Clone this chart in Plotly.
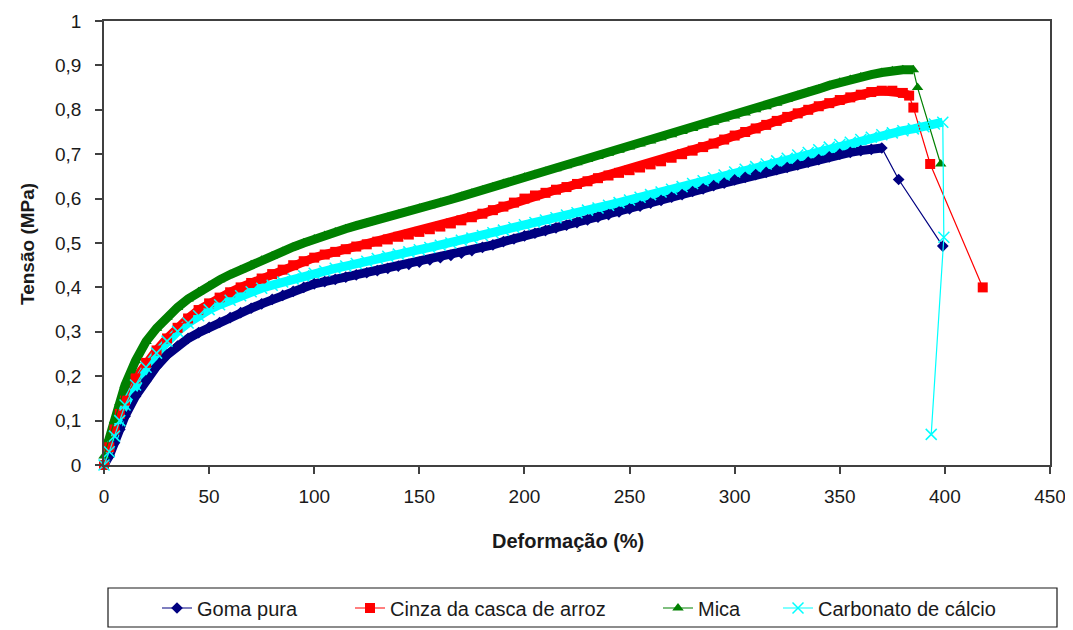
import plotly.graph_objects as go

# ---------------- data ----------------
strain_goma = [0, 2.5, 5, 7.5, 10, 15, 20, 25, 30, 35, 40, 45, 50, 55, 60, 65, 70, 75, 80, 85, 90, 95,
               100, 105, 110, 115, 120, 125, 130, 135, 140, 145, 150, 155, 160, 165, 170, 175, 180, 185,
               190, 195, 200, 205, 210, 215, 220, 225, 230, 235, 240, 245, 250, 255, 260, 265, 270, 275,
               280, 285, 290, 295, 300, 305, 310, 315, 320, 325, 330, 335, 340, 345, 350, 355, 360, 365,
               370, 378, 399]
stress_goma = [0, 0.02, 0.05, 0.08, 0.11, 0.155, 0.19, 0.222, 0.248, 0.268, 0.285, 0.298, 0.31, 0.321,
               0.332, 0.343, 0.353, 0.363, 0.373, 0.382, 0.391, 0.40,
               0.408, 0.413, 0.418, 0.423, 0.428, 0.433, 0.438, 0.443, 0.448, 0.452, 0.457, 0.462, 0.467,
               0.472, 0.477, 0.483, 0.49, 0.496, 0.503, 0.509, 0.516, 0.522, 0.528, 0.534, 0.54, 0.546,
               0.552, 0.558, 0.564, 0.57, 0.577, 0.583, 0.59, 0.596, 0.603, 0.609, 0.616, 0.622, 0.629,
               0.635, 0.642, 0.648, 0.654, 0.659, 0.665, 0.67, 0.676, 0.682, 0.688, 0.694, 0.70, 0.704,
               0.708, 0.711, 0.714, 0.643, 0.493]

strain_cinza = [0, 2.5, 5, 7.5, 10, 15, 20, 25, 30, 35, 40, 45, 50, 55, 60, 65, 70, 75, 80, 85, 90, 95,
                100, 105, 110, 115, 120, 125, 130, 135, 140, 145, 150, 155, 160, 165, 170, 175, 180, 185,
                190, 195, 200, 205, 210, 215, 220, 225, 230, 235, 240, 245, 250, 255, 260, 265, 270, 275,
                280, 285, 290, 295, 300, 305, 310, 315, 320, 325, 330, 335, 340, 345, 350, 355, 360, 365,
                370, 375, 380, 383, 385, 393, 418]
stress_cinza = [0, 0.04, 0.08, 0.115, 0.145, 0.195, 0.23, 0.258, 0.285, 0.309, 0.33, 0.349, 0.364, 0.377,
                0.389, 0.40, 0.41, 0.42, 0.43, 0.44, 0.45, 0.459,
                0.467, 0.474, 0.48, 0.486, 0.492, 0.497, 0.503, 0.508, 0.514, 0.519, 0.525, 0.531, 0.537,
                0.544, 0.551, 0.558, 0.566, 0.574, 0.582, 0.591, 0.60, 0.607, 0.613, 0.62, 0.626, 0.633,
                0.639, 0.646, 0.652, 0.658, 0.664, 0.67, 0.677, 0.684, 0.692, 0.70, 0.708, 0.716, 0.724,
                0.733, 0.742, 0.75, 0.758, 0.766, 0.775, 0.784, 0.792, 0.80, 0.808, 0.815, 0.822, 0.828,
                0.834, 0.84, 0.843, 0.843, 0.838, 0.832, 0.805, 0.678, 0.40]

strain_mica = [0, 2.5, 5, 7.5, 10, 15, 20, 25, 30, 35, 40, 45, 50, 55, 60, 65, 70, 75, 80, 85, 90, 95,
               100, 105, 110, 115, 120, 125, 130, 135, 140, 145, 150, 155, 160, 165, 170, 175, 180, 185,
               190, 195, 200, 205, 210, 215, 220, 225, 230, 235, 240, 245, 250, 255, 260, 265, 270, 275,
               280, 285, 290, 295, 300, 305, 310, 315, 320, 325, 330, 335, 340, 345, 350, 355, 360, 365,
               370, 375, 380, 385, 387, 398]
stress_mica = [0.02, 0.06, 0.10, 0.14, 0.18, 0.235, 0.278, 0.308, 0.333, 0.355, 0.374, 0.39, 0.404, 0.417,
               0.429, 0.44, 0.451, 0.461, 0.471, 0.481, 0.491, 0.50,
               0.509, 0.517, 0.525, 0.532, 0.539, 0.545, 0.552, 0.558, 0.565, 0.571, 0.578, 0.584, 0.591,
               0.598, 0.605, 0.612, 0.619, 0.626, 0.634, 0.641, 0.648, 0.654, 0.661, 0.667, 0.674, 0.681,
               0.688, 0.695, 0.702, 0.709, 0.716, 0.723, 0.73, 0.737, 0.744, 0.751, 0.758, 0.765, 0.772,
               0.779, 0.786, 0.793, 0.80, 0.807, 0.815, 0.823, 0.832, 0.84, 0.847, 0.855, 0.862, 0.868,
               0.874, 0.879, 0.884, 0.888, 0.89, 0.89, 0.85, 0.678]

strain_carb = [0, 2.5, 5, 7.5, 10, 15, 20, 25, 30, 35, 40, 45, 50, 55, 60, 65, 70, 75, 80, 85, 90, 95,
               100, 105, 110, 115, 120, 125, 130, 135, 140, 145, 150, 155, 160, 165, 170, 175, 180, 185,
               190, 195, 200, 205, 210, 215, 220, 225, 230, 235, 240, 245, 250, 255, 260, 265, 270, 275,
               280, 285, 290, 295, 300, 305, 310, 315, 320, 325, 330, 335, 340, 345, 350, 355, 360, 365,
               370, 375, 380, 385, 390, 395, 399, 399.5, 393.5]
stress_carb = [0, 0.03, 0.065, 0.10, 0.135, 0.18, 0.22, 0.252, 0.279, 0.301, 0.32, 0.336, 0.35, 0.361,
               0.371, 0.381, 0.39, 0.398, 0.405, 0.412, 0.419, 0.426,
               0.432, 0.437, 0.443, 0.448, 0.454, 0.459, 0.465, 0.47, 0.475, 0.48, 0.485, 0.49, 0.495,
               0.50, 0.506, 0.511, 0.517, 0.523, 0.529, 0.535, 0.541, 0.546, 0.552, 0.557, 0.563, 0.568,
               0.574, 0.579, 0.585, 0.591, 0.597, 0.603, 0.609, 0.615, 0.621, 0.627, 0.634, 0.64, 0.647,
               0.653, 0.66, 0.666, 0.672, 0.678, 0.685, 0.691, 0.698, 0.704, 0.71, 0.716, 0.722, 0.727,
               0.733, 0.738, 0.744, 0.748, 0.753, 0.757, 0.762, 0.768, 0.772, 0.513, 0.069]

# number of points of each series that belong to the dense (continuous) part of the curve
dense_goma, dense_cinza, dense_mica, dense_carb = 77, 80, 80, 83

x_title = "Deformação (%)"
y_title = "Tensão (MPa)"

series = [
    ("Goma pura", strain_goma, stress_goma, dense_goma, "#000080", "diamond", 9, "legend", 157),
    ("Cinza da casca de arroz", strain_cinza, stress_cinza, dense_cinza, "#FF0000", "square", 10, "legend2", 350),
    ("Mica", strain_mica, stress_mica, dense_mica, "#008000", "triangle-up", 10, "legend3", 658),
    ("Carbonato de cálcio", strain_carb, stress_carb, dense_carb, "#00FFFF", "x-thin", 11, "legend4", 778),
]

fig = go.Figure()

# thick band underneath (the densely packed markers of the original)
for name, xs, ys, nd, col, sym, ms, lg, lx in series:
    fig.add_trace(go.Scatter(
        x=xs[:nd], y=ys[:nd], mode="lines", showlegend=False, hoverinfo="skip",
        line=dict(color=col, width=9), cliponaxis=False))

for name, xs, ys, nd, col, sym, ms, lg, lx in series:
    marker = dict(symbol=sym, size=ms, color=col)
    if sym == "x-thin":
        marker["line"] = dict(color=col, width=1.5)
    fig.add_trace(go.Scatter(
        x=xs, y=ys, mode="lines+markers", name=name, legend=lg,
        line=dict(color=col, width=1.2), marker=marker, cliponaxis=False))

axis_col = "#404040"
txt_col = "#1a1a1a"
font_family = "Liberation Sans, Arial, sans-serif"

# the page body adds an 8 px offset; the figure is sized so it fits the 1073x630 window
OFF = 8
W, H = 1073 - OFF, 630 - OFF
L, R, T, B = 104 - OFF, 23, 21 - OFF, 165
pw, ph = W - L - R, H - T - B


def px_x(p):
    return (p - OFF - L) / pw


def px_y(p):
    return (H - B - (p - OFF)) / ph


def cx(p):
    return (p - OFF) / W


def cy(p):
    return (H - (p - OFF)) / H


layout = dict(
    width=W, height=H,
    margin=dict(l=L, r=R, t=T, b=B, autoexpand=False),
    paper_bgcolor="white", plot_bgcolor="white",
    separators=",.",
    font=dict(family=font_family, size=16, color=txt_col),
    xaxis=dict(
        range=[0, 450], dtick=50, tick0=0, showgrid=False, zeroline=False, automargin=False,
        showline=True, linecolor=axis_col, linewidth=1.5, mirror=True,
        ticks="outside", ticklen=7, tickcolor=axis_col, tickwidth=1.5, ticklabelstandoff=6,
        tickfont=dict(size=19, color=txt_col),
    ),
    yaxis=dict(
        range=[0, 1], dtick=0.1, tick0=0, showgrid=False, zeroline=False, automargin=False,
        showline=True, linecolor=axis_col, linewidth=1.5, mirror=True,
        ticks="outside", ticklen=7, tickcolor=axis_col, tickwidth=1.5, ticklabelstandoff=10,
        tickfont=dict(size=19, color=txt_col),
    ),
    annotations=[
        dict(text="<b>" + x_title + "</b>", xref="paper", yref="paper", x=px_x(568), y=px_y(541),
             xanchor="center", yanchor="middle", showarrow=False, font=dict(size=20, color=txt_col)),
        dict(text="<b>" + y_title + "</b>", xref="paper", yref="paper", x=px_x(27), y=px_y(244),
             xanchor="center", yanchor="middle", showarrow=False, textangle=-90,
             font=dict(size=19, color=txt_col)),
    ],
    shapes=[dict(type="rect", xref="paper", yref="paper",
                 x0=px_x(108), x1=px_x(1057), y0=px_y(627), y1=px_y(588),
                 line=dict(color=txt_col, width=1.2), fillcolor="rgba(0,0,0,0)")],
)

for name, xs, ys, nd, col, sym, ms, lg, lx in series:
    layout[lg] = dict(orientation="h", xref="container", yref="container",
                      x=cx(lx), xanchor="left", y=cy(608), yanchor="middle",
                      font=dict(size=20, color=txt_col), bgcolor="rgba(0,0,0,0)")

fig.update_layout(**layout)

fig.write_html("out.html")
